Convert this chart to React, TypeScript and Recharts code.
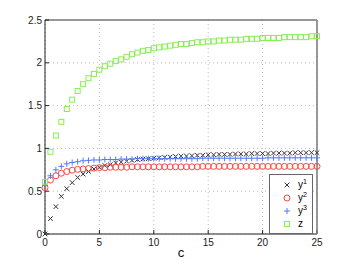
import { ScatterChart, Scatter, XAxis, YAxis, CartesianGrid, Legend } from "recharts";

const cValues = [
  0, 0.5, 1, 1.5, 2, 2.5, 3, 3.5, 4, 4.5, 5, 5.5, 6, 6.5, 7, 7.5, 8, 8.5, 9, 9.5,
  10, 10.5, 11, 11.5, 12, 12.5, 13, 13.5, 14, 14.5, 15, 15.5, 16, 16.5, 17, 17.5,
  18, 18.5, 19, 19.5, 20, 20.5, 21, 21.5, 22, 22.5, 23, 23.5, 24, 24.5, 25,
];

const y1Values = [
  0, 0.18, 0.32, 0.44, 0.53, 0.6, 0.66, 0.7, 0.73, 0.76, 0.78, 0.8, 0.81, 0.83, 0.84,
  0.85, 0.86, 0.87, 0.875, 0.88, 0.885, 0.89, 0.895, 0.9, 0.905, 0.91, 0.91, 0.915,
  0.92, 0.92, 0.925, 0.925, 0.93, 0.93, 0.93, 0.935, 0.935, 0.935, 0.94, 0.94, 0.94,
  0.94, 0.945, 0.945, 0.945, 0.945, 0.95, 0.95, 0.95, 0.95, 0.95,
];

const y2Values = [
  0.54, 0.63, 0.68, 0.71, 0.73, 0.745, 0.755, 0.76, 0.765, 0.77, 0.775, 0.775, 0.78,
  0.78, 0.78, 0.78, 0.785, 0.785, 0.785, 0.785, 0.785, 0.785, 0.785, 0.785, 0.785,
  0.785, 0.785, 0.785, 0.785, 0.79, 0.79, 0.79, 0.79, 0.79, 0.79, 0.79, 0.79, 0.79,
  0.79, 0.79, 0.79, 0.79, 0.79, 0.79, 0.79, 0.79, 0.79, 0.79, 0.79, 0.79, 0.79,
];

const y3Values = [
  0.57, 0.68, 0.75, 0.79, 0.82, 0.835, 0.845, 0.855, 0.86, 0.865, 0.865, 0.87, 0.87,
  0.87, 0.875, 0.875, 0.875, 0.88, 0.88, 0.88, 0.88, 0.88, 0.88, 0.88, 0.88, 0.88,
  0.88, 0.88, 0.88, 0.885, 0.885, 0.885, 0.885, 0.885, 0.885, 0.885, 0.885, 0.885,
  0.885, 0.885, 0.885, 0.89, 0.89, 0.89, 0.89, 0.89, 0.89, 0.89, 0.89, 0.89, 0.89,
];

const zValues = [
  0.61, 0.96, 1.15, 1.31, 1.46, 1.57, 1.67, 1.75, 1.82, 1.87, 1.92, 1.96, 1.99, 2.02,
  2.04, 2.07, 2.1, 2.12, 2.14, 2.15, 2.17, 2.18, 2.19, 2.2, 2.21, 2.22, 2.22, 2.23,
  2.24, 2.24, 2.25, 2.25, 2.26, 2.26, 2.27, 2.27, 2.27, 2.28, 2.28, 2.28, 2.29, 2.29,
  2.29, 2.29, 2.3, 2.3, 2.3, 2.3, 2.3, 2.31, 2.31,
];

const xTicks = [0, 5, 10, 15, 20, 25];
const yTicks = [0, 0.5, 1, 1.5, 2, 2.5];

const toPoints = (vals: number[]) => cValues.map((c, i) => ({ x: c, y: vals[i] }));

const CrossMark = ({ cx, cy }: any) => (
  <path
    d={`M${cx - 2.3},${cy - 2.3}L${cx + 2.3},${cy + 2.3}M${cx - 2.3},${cy + 2.3}L${cx + 2.3},${cy - 2.3}`}
    stroke="#333"
    strokeWidth={1}
  />
);
const CircleMark = ({ cx, cy }: any) => (
  <circle cx={cx} cy={cy} r={3} fill="none" stroke="#ff4444" strokeWidth={1} />
);
const PlusMark = ({ cx, cy }: any) => (
  <path
    d={`M${cx - 3},${cy}L${cx + 3},${cy}M${cx},${cy - 3}L${cx},${cy + 3}`}
    stroke="#5577ff"
    strokeWidth={1}
  />
);
const SquareMark = ({ cx, cy }: any) => (
  <rect x={cx - 2.5} y={cy - 2.5} width={5} height={5} fill="none" stroke="#88ee55" strokeWidth={1} />
);

const series = [
  { key: "y1", label: "y", sup: "1", values: y1Values, shape: CrossMark },
  { key: "y2", label: "y", sup: "2", values: y2Values, shape: CircleMark },
  { key: "y3", label: "y", sup: "3", values: y3Values, shape: PlusMark },
  { key: "z", label: "z", sup: "", values: zValues, shape: SquareMark },
];

const LegendBox = () => (
  <div
    style={{
      width: 42,
      border: "1.5px solid #666",
      background: "#fff",
      padding: "3px 0 3px 0",
      fontFamily: "Liberation Sans, Arial, sans-serif",
      fontSize: 10,
    }}
  >
    {series.map((s) => {
      const Shape = s.shape;
      return (
        <div key={s.key} style={{ display: "flex", alignItems: "center", height: 13 }}>
          <svg width={28} height={12}>
            <Shape cx={17} cy={6} />
          </svg>
          <span>
            {s.label}
            {s.sup && <sup style={{ fontSize: 7 }}>{s.sup}</sup>}
          </span>
        </div>
      );
    })}
  </div>
);

export default function App() {
  const tickStyle = { fontSize: 10, fill: "#222", fontFamily: "Liberation Sans, Arial, sans-serif" };
  return (
    <div style={{ position: "absolute", left: 0, top: 0, background: "#fff" }}>
      <ScatterChart width={350} height={264} margin={{ top: 19, right: 32, left: 0, bottom: 0 }}>
        <CartesianGrid stroke="#bbb" strokeDasharray="1 3" />
        <XAxis
          type="number"
          dataKey="x"
          domain={[0, 25]}
          ticks={xTicks}
          height={30}
          tickSize={-4}
          tickMargin={9}
          tick={tickStyle}
          axisLine={{ stroke: "#222" }}
          tickLine={{ stroke: "#222" }}
          label={{
            value: "c",
            position: "insideBottom",
            offset: 7,
            style: { fontSize: 13, fill: "#111", fontFamily: "Liberation Sans, Arial, sans-serif" },
          }}
        />
        <XAxis
          xAxisId="top"
          orientation="top"
          type="number"
          domain={[0, 25]}
          ticks={xTicks}
          height={1}
          tickSize={-4}
          tick={() => <g />}
          axisLine={{ stroke: "#777", strokeWidth: 1.5 }}
          tickLine={{ stroke: "#777" }}
        />
        <YAxis
          type="number"
          dataKey="y"
          domain={[0, 2.5]}
          ticks={yTicks}
          width={45}
          tickSize={-4}
          tickMargin={7}
          tick={tickStyle}
          axisLine={{ stroke: "#222" }}
          tickLine={{ stroke: "#222" }}
        />
        <YAxis
          yAxisId="right"
          orientation="right"
          type="number"
          domain={[0, 2.5]}
          ticks={yTicks}
          width={1}
          tickSize={-4}
          tick={() => <g />}
          axisLine={{ stroke: "#777", strokeWidth: 1.5 }}
          tickLine={{ stroke: "#777" }}
        />
        {series.map((s) => (
          <Scatter
            key={s.key}
            name={s.key}
            data={toPoints(s.values)}
            shape={s.shape}
            isAnimationActive={false}
          />
        ))}
        <Legend
          layout="vertical"
          align="center"
          verticalAlign="middle"
          content={() => <LegendBox />}
          wrapperStyle={{ left: 269, top: 174, width: 44 }}
        />
      </ScatterChart>
    </div>
  );
}
